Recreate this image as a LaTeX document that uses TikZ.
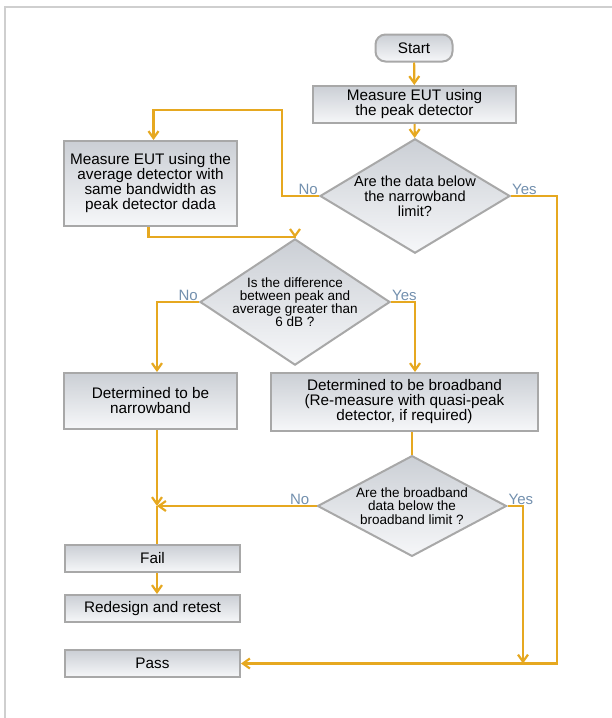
\documentclass[tikz,border=0pt]{standalone}
\usepackage{fontspec}
\setmainfont{Liberation Sans}
\usepackage{tikz}
\usetikzlibrary{shapes.geometric}
\usetikzlibrary{arrows.meta}
\definecolor{flowline}{HTML}{E6A820}
\definecolor{boxedge}{HTML}{A8A8A8}
\definecolor{answer}{HTML}{7390AE}
\definecolor{frameline}{HTML}{CFCFCF}
\definecolor{shadetop}{HTML}{CBCFD5}
\definecolor{shadebot}{HTML}{F6F7F9}
\begin{document}
\begin{tikzpicture}[x=1pt,y=-1pt,
  box/.style={draw=boxedge,line width=2pt,top color=shadetop,bottom color=shadebot,align=center,inner sep=0pt,font=\fontsize{15.3}{15}\selectfont},
  decision/.style={diamond,draw=boxedge,line width=2pt,top color=shadetop,bottom color=shadebot,align=center,inner sep=-12pt},
  flow/.style={draw=flowline,line width=2.2pt,-{Straight Barb[length=7pt,width=10pt]}},
  plainflow/.style={draw=flowline,line width=2.2pt},
  ans/.style={text=answer,inner sep=1pt,font=\fontsize{15}{15}\selectfont}]
  \useasboundingbox (0,0) rectangle (612,718);
  \draw[frameline,line width=2pt] (5,718)--(5,7)--(612,7);

  \node[box,rounded corners=10pt,minimum width=77pt,minimum height=27pt] (start) at (414,48) {Start};
  \node[box,minimum width=203pt,minimum height=37pt] (peak) at (414.5,104.5) {Measure EUT using\\the peak detector};
  \node[decision,minimum width=190pt,minimum height=92pt,font=\fontsize{14.6}{15}\selectfont] (d1) at (415,196) {Are the data below\\the narrowband\\limit?};
  \node[box,minimum width=173pt,minimum height=85pt] (avg) at (150.5,183.5) {Measure EUT using the\\average detector with\\same bandwidth as\\peak detector dada};
  \node[decision,minimum width=190pt,minimum height=91pt,font=\fontsize{13.5}{13}\selectfont] (d2) at (295,302) {Is the difference\\between peak and\\average greater than\\6 dB ?};
  \node[box,minimum width=173pt,minimum height=56pt] (narrow) at (150.5,401) {Determined to be\\narrowband};
  \node[box,minimum width=267pt,minimum height=58pt] (broad) at (404.5,402) {Determined to be broadband\\(Re-measure with quasi-peak\\detector, if required)};
  \node[decision,minimum width=189pt,minimum height=92pt,font=\fontsize{13.5}{13.5}\selectfont] (d3) at (412,506) {Are the broadband\\data below the\\broadband limit ?};
  \node[box,minimum width=175pt,minimum height=27pt] (fail) at (152.5,558.5) {Fail};
  \node[box,minimum width=175pt,minimum height=27pt] (redo) at (152.5,608.5) {Redesign and retest};
  \node[box,minimum width=175pt,minimum height=27pt] (pass) at (152.5,663.5) {Pass};

  \node[ans,above left] (no1) at (d1.west) {No};
  \node[ans,above right] (yes1) at (d1.east) {Yes};
  \node[ans,above left] (no2) at (d2.west) {No};
  \node[ans,above right] (yes2) at (d2.east) {Yes};
  \node[ans,above left,xshift=-6pt] (no3) at (d3.west) {No};
  \node[ans,above right] (yes3) at (d3.east) {Yes};

  \coordinate (bendno) at (282,110);
  \coordinate (merge) at (157,506);
  \coordinate (outer) at (557,663.5);
  \coordinate (yesdrop) at (523,663.5);

  \draw[flow] (start)--(peak);
  \draw[flow] (peak)--(d1);
  \draw[flow] (d1.west) -| (bendno) -| ([xshift=3pt]avg.north);
  \draw[flow] (d1.east) -| (outer)--(pass.east);
  \draw[flow] ([xshift=-2pt]avg.south)--++(0,10) -| (d2.north);
  \draw[flow] (d2.west) -| ([xshift=6.5pt]narrow.north);
  \draw[flow] (d2.east) -| ([xshift=10.5pt]broad.north);
  \draw[plainflow] (broad.south -| d3.north)--(d3.north);
  \draw[flow] ([xshift=6.5pt]narrow.south)--(merge);
  \draw[flow] (d3.west)--(merge);
  \draw[plainflow] (merge)--(merge |- fail.north);
  \draw[flow] (merge |- fail.south)--(merge |- redo.north);
  \draw[flow] (d3.east) -| (yesdrop);
\end{tikzpicture}
\end{document}
